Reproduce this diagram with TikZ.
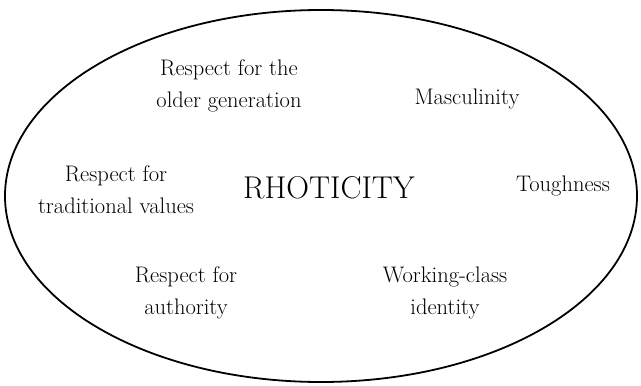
\documentclass[tikz,border=0pt]{standalone}
\begin{document}
\begin{tikzpicture}[x=1pt,y=-1pt,
  lbl/.style={align=center,font=\fontsize{22.5}{32}\selectfont,inner sep=0pt},
  big/.style={font=\fontsize{31.5}{34}\selectfont,inner sep=0pt}]
\useasboundingbox (0,0) rectangle (641,386);
\draw[line width=1.8pt] (321,196) ellipse [x radius=316, y radius=186];
\node[lbl] (older) at (229,86) {Respect for the\\older generation};
\node[lbl] (masc) at (467,99) {Masculinity};
\node[lbl] (trad) at (116,190) {Respect for\\traditional values};
\node[big] (rho) at (329,188) {RHOTICITY};
\node[lbl] (tough) at (563,186) {Toughness};
\node[lbl] (auth) at (186,293) {Respect for\\authority};
\node[lbl] (work) at (445,293) {Working-class\\identity};
\end{tikzpicture}
\end{document}
